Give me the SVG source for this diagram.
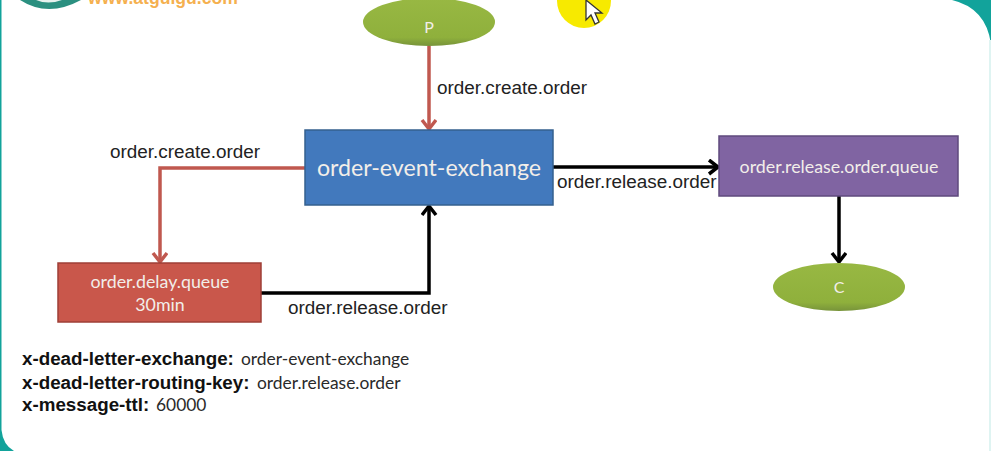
<svg xmlns="http://www.w3.org/2000/svg" width="991" height="451" viewBox="0 0 991 451">
  <style>
    .label { font-family: "Liberation Sans", Arial, sans-serif; font-size: 18.9px; fill: #222; }
    .key { font-family: "Liberation Sans", Arial, sans-serif; font-size: 18.8px; font-weight: bold; fill: #111; }
    .val { font-family: Lato, "Open Sans", sans-serif; font-size: 17.4px; fill: #2a2a2a; }
    .inner { font-family: Lato, "Open Sans", sans-serif; fill: #f2eee9; text-anchor: middle; }
    .red { fill: none; stroke: #c0584f; stroke-width: 3.5; }
    .black { fill: none; stroke: #000; stroke-width: 3.5; }
  </style>
  <defs>
    <linearGradient id="green" x1="0" y1="0" x2="0" y2="1">
      <stop offset="0" stop-color="#98b843"/>
      <stop offset="0.82" stop-color="#8fb03c"/>
      <stop offset="1" stop-color="#77933a"/>
    </linearGradient>
    <marker id="headRed" markerUnits="userSpaceOnUse" markerWidth="18" markerHeight="18" refX="12" refY="8" orient="auto">
      <path d="M3 1 L12 8 L3 15" fill="none" stroke="#c0584f" stroke-width="3.5"/>
    </marker>
    <marker id="headBlack" markerUnits="userSpaceOnUse" markerWidth="18" markerHeight="18" refX="12" refY="8" orient="auto">
      <path d="M3 1 L12 8 L3 15" fill="none" stroke="#000" stroke-width="3.5"/>
    </marker>
  </defs>

  <!-- slide backdrop -->
  <rect width="991" height="451" fill="#12a39b"/>
  <path d="M0 0 H952 Q986 8 991 44 V451 H14 Q3 445 1.5 430 V0 Z" fill="#fff"/>
  <rect x="989" y="40" width="2" height="411" fill="#dff4f2"/>

  <!-- logo strip along the top edge -->
  <g id="logo">
    <path d="M20 0 Q48 18 81 0 Z" fill="#2b9080"/>
    <path d="M36 0 Q48 5 62 0 Z" fill="#e6f2ee"/>
    <text x="88" y="4" font-family="'Liberation Sans', sans-serif" font-size="17.6" font-weight="bold" fill="#f5b04f">www.atguigu.com</text>
  </g>

  <!-- pointer highlight -->
  <g id="pointer">
    <circle cx="584" cy="1" r="27" fill="#f7ea00"/>
    <path d="M586 0 V20 L591 15 L595 24 L599 22 L595 13 L602 13 Z" fill="#fff" stroke="#333" stroke-width="1.3"/>
  </g>

  <g id="connectors">
    <path class="red" d="M429 46 V129" marker-end="url(#headRed)"/>
    <path class="red" d="M305 168 H160 V262" marker-end="url(#headRed)"/>
    <path class="black" d="M261 293 H429 V206" marker-end="url(#headBlack)"/>
    <path class="black" d="M553 167 H718" marker-end="url(#headBlack)"/>
    <path class="black" d="M839 196 V262" marker-end="url(#headBlack)"/>
  </g>

  <g id="producer">
    <ellipse cx="429" cy="22" rx="66" ry="24" fill="url(#green)"/>
    <text class="inner" x="429" y="33" font-size="16">P</text>
  </g>
  <g id="exchange">
    <rect x="305" y="130" width="248" height="75" fill="#4279bd" stroke="#35608f" stroke-width="1.5"/>
    <text class="inner" x="429" y="176" font-size="23.2">order-event-exchange</text>
  </g>
  <g id="delay-queue">
    <rect x="58" y="263" width="203" height="59" fill="#c9574b" stroke="#9e3f37" stroke-width="1.5"/>
    <text class="inner" x="160" y="288" font-size="17.8">order.delay.queue</text>
    <text class="inner" x="160" y="311" font-size="17.8">30min</text>
  </g>
  <g id="release-queue">
    <rect x="719" y="136" width="239" height="60" fill="#8064a2" stroke="#5f4a7d" stroke-width="1.5"/>
    <text class="inner" x="839" y="173" font-size="17.8">order.release.order.queue</text>
  </g>
  <g id="consumer">
    <ellipse cx="839" cy="287" rx="66" ry="24" fill="url(#green)"/>
    <text class="inner" x="839" y="293" font-size="16">C</text>
  </g>

  <g id="labels">
    <text class="label" x="437" y="94">order.create.order</text>
    <text class="label" x="110" y="158">order.create.order</text>
    <text class="label" x="557" y="188">order.release.order</text>
    <text class="label" x="288" y="314">order.release.order</text>
  </g>

  <g id="arguments">
    <text x="22" y="365"><tspan class="key">x-dead-letter-exchange:</tspan><tspan class="val" x="241">order-event-exchange</tspan></text>
    <text x="22" y="389"><tspan class="key">x-dead-letter-routing-key:</tspan><tspan class="val" x="257">order.release.order</tspan></text>
    <text x="22" y="411"><tspan class="key">x-message-ttl:</tspan><tspan class="val" x="156">60000</tspan></text>
  </g>
</svg>
